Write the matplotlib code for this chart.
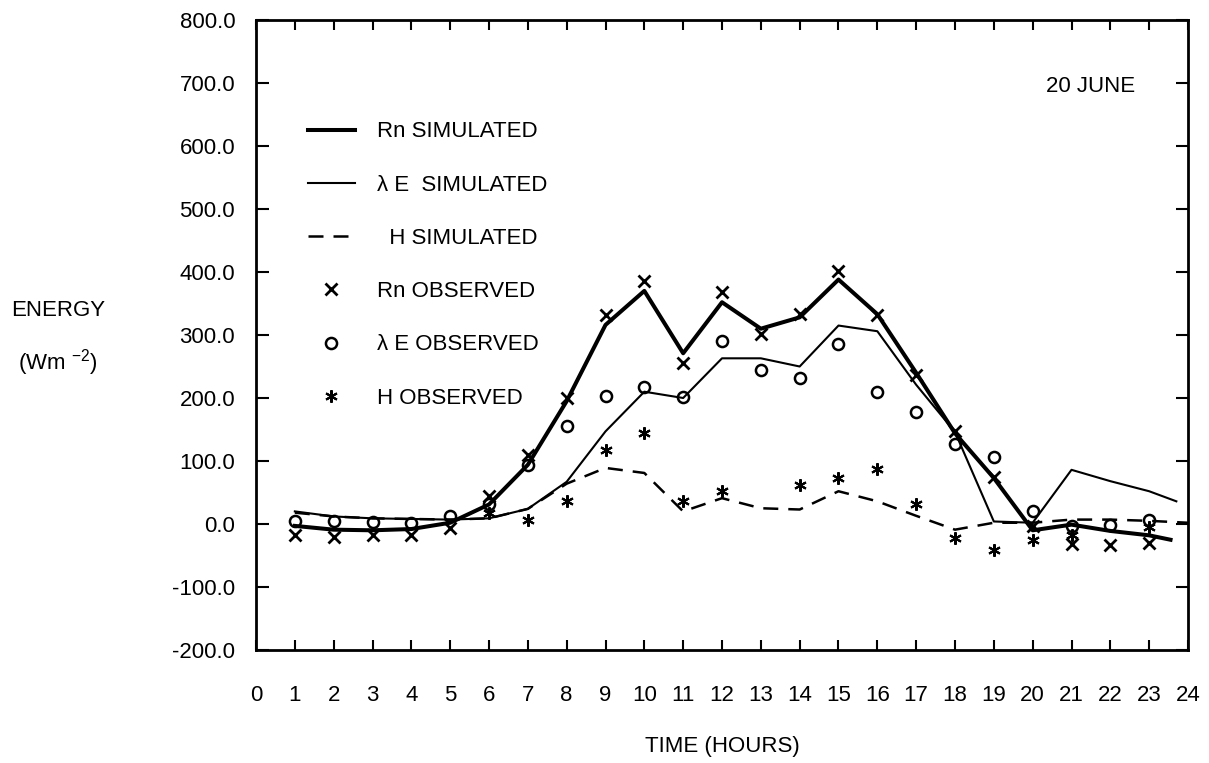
import numpy as np
import matplotlib.pyplot as plt
from matplotlib.ticker import FormatStrFormatter, MultipleLocator

plt.rcParams['font.family'] = ['Liberation Sans Narrow', 'Liberation Sans', 'DejaVu Sans']
plt.rcParams['mathtext.default'] = 'regular'
plt.rcParams['axes.unicode_minus'] = False

# hours of the day
hours = [1, 2, 3, 4, 5, 6, 7, 8, 9, 10, 11, 12, 13, 14, 15, 16, 17, 18, 19, 20, 21, 22, 23]

# simulated curves (W m-2)
rn_sim_hours = hours + [23.55]
rn_sim = [-3, -9, -10, -8, 2, 31, 94, 195, 316, 370, 271, 352, 310, 328, 388, 333, 240, 144, 73, -10, -1, -11, -18, -25]
le_sim_hours = hours + [23.7]
le_sim = [20, 12, 9, 8, 7, 9, 24, 67, 147, 210, 200, 263, 263, 250, 315, 306, 221, 146, 4, 2, 86, 68, 52, 36]
h_sim_hours = hours + [24]
h_sim = [18, 12, 9, 8, 7, 9, 24, 64, 89, 81, 20, 41, 25, 23, 52, 36, 13, -9, 2, 2, 7, 7, 5, 2]

# observed points
rn_obs = [-17, -21, -18, -17, -7, 44, 110, 200, 332, 385, 255, 369, 302, 333, 401, 332, 237, 147, 75, -3, -32, -33, -30]
le_obs = [5, 5, 3, 2, 13, 32, 94, 156, 203, 217, 201, 291, 245, 231, 285, 210, 178, 127, 106, 20, -3, -1, 7]
h_obs_hours = [6, 7, 8, 9, 10, 11, 12, 14, 15, 16, 17, 18, 19, 20, 21, 23]
h_obs = [17, 7, 37, 118, 144, 36, 52, 62, 73, 88, 32, -23, -41, -25, -17, -4]

fig = plt.figure(figsize=(12.09, 7.63), dpi=100)
ax = fig.add_axes([256 / 1209, 113 / 763, 932 / 1209, 630 / 763])

star = (6, 2, 0)
ax.plot(rn_sim_hours, rn_sim, color='black', lw=2.9, label='Rn SIMULATED')
ax.plot(le_sim_hours, le_sim, color='black', lw=1.5, label='λ E  SIMULATED')
ax.plot(h_sim_hours, h_sim, color='black', lw=1.8, ls=(0, (6, 4)), label='  H SIMULATED')
ax.plot(hours, rn_obs, ls='none', marker='x', ms=8, mew=2, color='black', label='Rn OBSERVED')
ax.plot(hours, le_obs, ls='none', marker='o', ms=8, mew=1.8, mfc='none', mec='black', label='λ E OBSERVED')
ax.plot(h_obs_hours, h_obs, ls='none', marker=star, ms=9, mew=1.5, color='black', label='H OBSERVED')

ax.set_xlim(0, 24)
ax.set_ylim(-200, 800)
ax.xaxis.set_major_locator(MultipleLocator(1))
ax.yaxis.set_major_locator(MultipleLocator(100))
ax.yaxis.set_major_formatter(FormatStrFormatter('%.1f'))
ax.tick_params(axis='both', direction='in', top=True, right=True, width=1.5, labelsize=16)
ax.tick_params(axis='x', length=7, pad=25)
ax.tick_params(axis='y', length=9, pad=15)
for sp in ax.spines.values():
    sp.set_linewidth(2)

ax.set_xlabel('TIME (HOURS)', fontsize=16, labelpad=22)
fig.text(58 / 1209, 1 - 310 / 763, 'ENERGY', fontsize=16, ha='center', va='center')
fig.text(58 / 1209, 1 - 363 / 763, '(Wm $^{-2}$)', fontsize=16, ha='center', va='center')

ax.text(0.895, 0.894, '20 JUNE', transform=ax.transAxes, fontsize=16, ha='center', va='center')

ax.legend(loc='upper left', bbox_to_anchor=(0.0558, 0.839), frameon=False, fontsize=16,
          borderpad=0, borderaxespad=0, handlelength=2.1, handletextpad=1.0, labelspacing=1.45)

fig.savefig('out.png', dpi=100)
